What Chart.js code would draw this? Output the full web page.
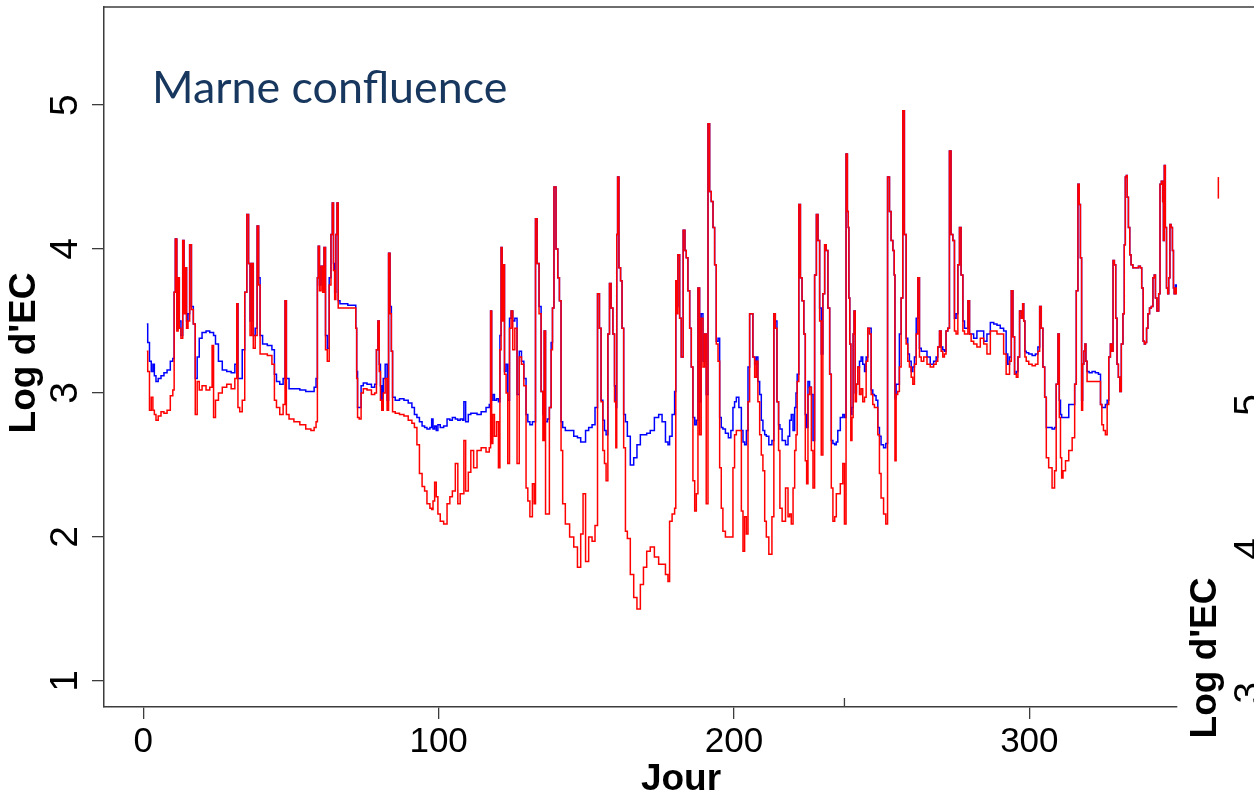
<!DOCTYPE html>
<html lang="fr">
<head>
<meta charset="UTF-8">
<title>Marne confluence - Log d'EC</title>
<script src="https://cdn.jsdelivr.net/npm/chart.js"></script>
<style>
    html, body { margin: 0; padding: 0; background: #fff; }
    #zone { width: 1254px; height: 798px; overflow: hidden; }
</style>
</head>
<body>
<div id="zone"><canvas id="ecChart" width="1254" height="798"></canvas></div>
<script>
// Jour de l'année et log d'EC pour les deux séries (bleu / rouge)
const jour = [
    1.2, 1.8, 2.4, 3.0, 3.5, 4.0, 4.6, 5.5, 6.5, 7.5,
    8.6, 9.7, 10.3, 10.6, 11.1, 11.6, 12.0, 12.4, 13.1, 13.6,
    14.0, 14.4, 14.9, 15.4, 16.0, 16.6, 17.3, 17.9, 18.6, 19.3,
    20.5, 22.0, 23.0, 23.6, 24.0, 24.9, 26.0, 27.5, 29.0, 30.5,
    31.5, 31.8, 32.3, 33.0, 34.0, 34.7, 35.4, 35.9, 36.4, 37.0,
    37.5, 38.3, 38.8, 39.3, 39.8, 41.0, 43.0, 44.1, 44.7, 45.5,
    46.9, 47.8, 48.2, 48.7, 50.0, 52.0, 54.0, 56.0, 57.5, 58.2,
    58.8, 59.1, 59.4, 59.9, 60.5, 61.0, 61.4, 62.0, 62.6, 63.3,
    63.8, 64.2, 64.6, 65.0, 65.4, 65.8, 66.2, 67.0, 68.5, 70.0,
    71.8, 72.1, 72.4, 72.7, 73.5, 74.0, 75.0, 76.5, 78.0, 78.7,
    79.2, 79.7, 80.1, 80.5, 81.0, 81.5, 82.3, 82.8, 83.3, 83.8,
    84.2, 84.6, 86.0, 87.5, 89.0, 90.4, 91.5, 92.1, 93.2, 93.8,
    95.0, 95.5, 96.6, 97.5, 97.8, 98.4, 98.9, 99.5, 100.0, 101.1,
    102.3, 103.4, 104.2, 105.1, 106.2, 106.8, 107.8, 108.4, 108.7, 109.6,
    110.5, 111.3, 112.4, 113.6, 115.2, 116.9, 117.4, 117.8, 118.1, 118.6,
    119.2, 120.0, 120.5, 121.0, 121.3, 121.7, 122.0, 122.6, 123.1, 123.7,
    124.3, 124.8, 125.4, 126.2, 126.9, 127.7, 128.4, 129.3, 129.9, 130.5,
    131.3, 132.2, 132.5, 133.1, 133.6, 134.4, 135.0, 135.6, 135.9, 136.5,
    137.2, 137.8, 138.4, 138.7, 139.4, 140.1, 140.6, 141.2, 141.7, 142.3,
    143.5, 145.2, 146.3, 147.7, 148.5, 149.3, 150.2, 151.4, 152.5, 153.4,
    154.2, 154.7, 155.3, 155.9, 156.4, 157.0, 157.6, 158.1, 158.7, 159.3,
    159.8, 160.2, 160.4, 160.8, 161.3, 161.9, 162.3, 163.0, 163.5, 164.3,
    165.5, 166.6, 167.7, 168.9, 169.8, 171.1, 172.2, 173.9, 175.1, 176.2,
    177.4, 177.9, 178.5, 179.6, 180.2, 180.4, 180.7, 181.3, 181.9, 182.4,
    183.2, 183.6, 184.1, 184.7, 185.3, 185.8, 186.4, 187.0, 187.5, 188.1,
    188.6, 189.2, 189.8, 190.3, 190.9, 191.5, 192.0, 192.6, 193.2, 193.7,
    194.3, 194.9, 195.4, 196.0, 196.5, 197.7, 198.5, 199.4, 199.9, 200.5,
    201.1, 202.2, 202.8, 203.3, 203.9, 204.5, 205.0, 205.6, 206.1, 206.7,
    207.3, 207.8, 208.4, 209.0, 209.5, 210.1, 210.7, 211.2, 212.4, 213.3,
    213.7, 214.3, 214.8, 215.4, 215.7, 216.9, 218.0, 218.6, 219.1, 219.7,
    220.3, 220.8, 221.2, 221.6, 222.3, 222.7, 223.4, 223.9, 224.4, 224.8,
    225.3, 225.9, 226.5, 227.0, 227.6, 228.2, 228.7, 229.3, 229.8, 230.4,
    231.0, 231.5, 232.1, 232.7, 233.2, 233.8, 234.4, 234.9, 235.4, 236.6,
    237.1, 237.7, 238.2, 238.6, 238.8, 239.0, 239.4, 239.7, 240.2, 240.5,
    240.8, 241.3, 241.6, 242.2, 242.8, 243.3, 243.9, 244.5, 245.0, 245.6,
    246.2, 246.7, 247.3, 247.8, 248.4, 249.0, 249.5, 250.1, 251.2, 251.6,
    252.4, 252.9, 253.5, 254.1, 254.4, 254.6, 255.2, 255.7, 256.3, 256.9,
    257.4, 258.0, 258.6, 259.1, 259.7, 260.3, 260.8, 261.4, 262.0, 262.5,
    263.1, 263.7, 264.8, 265.9, 267.0, 268.2, 268.7, 269.3, 269.9, 270.4,
    271.0, 271.5, 272.1, 272.7, 273.2, 273.8, 274.4, 274.9, 275.5, 276.1,
    276.6, 277.2, 277.8, 278.3, 278.9, 279.5, 280.0, 280.6, 281.7, 282.8,
    284.0, 285.1, 286.2, 287.4, 288.5, 289.6, 290.7, 291.9, 292.4, 293.0,
    293.6, 294.2, 294.7, 295.3, 295.9, 296.4, 297.0, 297.6, 297.9, 298.3,
    298.7, 299.2, 300.4, 301.5, 302.6, 303.2, 303.8, 304.3, 304.9, 305.5,
    306.0, 307.1, 308.3, 308.8, 309.4, 310.0, 310.3, 310.8, 311.1, 311.7,
    312.8, 313.9, 315.1, 315.6, 316.2, 316.7, 317.1, 317.5, 317.9, 318.2,
    318.7, 319.0, 319.3, 319.8, 320.7, 321.8, 322.9, 323.9, 324.3, 324.8,
    325.4, 326.1, 326.6, 327.2, 327.7, 328.1, 328.6, 329.0, 329.5, 329.9,
    330.4, 330.9, 331.4, 332.0, 332.3, 332.7, 333.0, 333.3, 333.8, 334.2,
    334.7, 335.4, 336.5, 337.4, 337.8, 338.3, 338.8, 339.1, 339.5, 339.9,
    340.4, 341.0, 341.6, 342.1, 342.5, 342.9, 343.5, 344.1, 344.4, 345.0,
    345.3, 345.5, 345.9, 346.2, 346.7, 347.0, 347.4, 347.8, 348.2, 348.7,
    348.9, 349.2, 349.7, 350.0
];

const ecBleu = [
    3.48, 3.35, 3.22, 3.15, 3.20, 3.12, 3.08, 3.10, 3.12, 3.14,
    3.16, 3.22, 3.24, 3.70, 4.07, 3.45, 3.80, 3.50, 3.40, 4.06,
    3.60, 3.87, 3.50, 3.55, 4.03, 3.60, 3.48, 3.10, 3.25, 3.38,
    3.42, 3.43, 3.42, 3.42, 3.40, 3.34, 3.22, 3.16, 3.15, 3.14,
    3.20, 3.62, 3.10, 3.10, 3.30, 3.70, 4.24, 3.90, 3.50, 3.90,
    3.40, 3.45, 4.16, 3.80, 3.40, 3.34, 3.33, 3.30, 3.13, 3.08,
    3.06, 3.10, 3.64, 3.10, 3.03, 3.03, 3.02, 3.01, 3.01, 3.04,
    3.10, 3.80, 4.02, 3.75, 3.88, 3.75, 4.01, 3.40, 3.31, 3.80,
    4.10, 4.32, 3.90, 3.70, 4.10, 4.32, 3.64, 3.62, 3.62, 3.61,
    3.61, 3.45, 3.15, 2.90, 2.90, 3.05, 3.07, 3.06, 3.04, 3.06,
    3.30, 3.50, 3.20, 3.05, 2.92, 3.10, 3.20, 2.95, 3.97, 3.60,
    3.29, 2.97, 2.95, 2.96, 2.95, 2.93, 2.90, 2.85, 2.83, 2.80,
    2.77, 2.76, 2.75, 2.76, 2.82, 2.75, 2.77, 2.74, 2.78, 2.76,
    2.77, 2.82, 2.81, 2.83, 2.82, 2.81, 2.82, 2.81, 2.94, 2.80,
    2.85, 2.86, 2.86, 2.85, 2.87, 2.90, 2.92, 3.57, 2.95, 2.99,
    2.95, 2.96, 2.94, 3.40, 4.01, 3.60, 3.89, 3.15, 3.20, 2.95,
    3.52, 3.57, 3.50, 3.52, 2.99, 3.29, 3.22, 3.10, 2.85, 2.80,
    2.78, 2.80, 2.80, 4.21, 3.90, 3.60, 3.01, 2.85, 3.43, 2.80,
    2.82, 2.90, 3.35, 3.59, 4.43, 4.00, 3.80, 3.64, 2.80, 2.76,
    2.74, 2.74, 2.70, 2.69, 2.66, 2.66, 2.74, 2.76, 2.78, 2.90,
    3.69, 3.45, 2.95, 2.81, 2.74, 2.71, 3.41, 3.76, 3.59, 3.41,
    3.05, 2.90, 4.10, 4.50, 3.87, 3.78, 3.45, 2.85, 2.80, 2.70,
    2.50, 2.55, 2.64, 2.71, 2.71, 2.72, 2.74, 2.83, 2.85, 2.80,
    2.66, 2.64, 2.70, 2.85, 3.01, 3.78, 3.60, 3.96, 3.52, 3.25,
    4.13, 3.99, 3.94, 3.71, 3.45, 3.18, 2.83, 2.78, 2.81, 3.73,
    2.94, 3.55, 3.22, 3.41, 2.99, 4.87, 4.40, 4.33, 4.15, 3.89,
    3.36, 3.38, 2.83, 2.76, 2.75, 2.72, 2.69, 2.74, 2.90, 2.94,
    2.97, 2.90, 2.74, 2.66, 2.64, 2.74, 3.18, 3.55, 3.55, 3.25,
    3.20, 3.25, 3.08, 2.99, 2.81, 2.74, 2.71, 2.70, 2.64, 2.67,
    3.55, 3.50, 2.94, 2.78, 2.75, 2.67, 2.64, 2.70, 2.81, 2.85,
    2.74, 2.90, 3.00, 3.13, 4.31, 3.80, 3.64, 3.41, 2.85, 2.76,
    3.08, 3.04, 2.99, 2.67, 3.82, 4.24, 4.06, 3.59, 3.27, 3.69,
    4.03, 3.99, 3.59, 3.13, 2.67, 2.65, 2.64, 2.66, 2.74, 2.83,
    2.85, 2.83, 4.66, 4.26, 4.15, 3.66, 3.34, 2.85, 2.90, 3.41,
    3.57, 3.00, 3.06, 3.18, 3.22, 3.25, 3.20, 3.15, 3.25, 3.45,
    3.45, 3.02, 2.99, 2.98, 2.95, 2.76, 2.70, 2.64, 2.62, 2.65,
    4.50, 4.26, 4.06, 3.99, 3.82, 2.96, 3.06, 3.06, 3.41, 3.66,
    4.96, 4.10, 3.38, 3.27, 3.22, 3.15, 3.18, 3.25, 3.52, 3.80,
    3.31, 3.29, 3.29, 3.25, 3.20, 3.22, 3.25, 3.32, 3.43, 3.32,
    3.30, 3.29, 3.43, 3.45, 4.68, 4.10, 4.06, 3.52, 3.55, 3.89,
    4.15, 3.82, 3.50, 3.45, 3.45, 3.64, 3.41, 3.41, 3.38, 3.43,
    3.43, 3.36, 3.41, 3.49, 3.48, 3.47, 3.45, 3.43, 3.27, 3.20,
    3.25, 3.71, 3.39, 3.13, 3.15, 3.25, 3.57, 3.52, 3.62, 3.50,
    3.29, 3.28, 3.27, 3.26, 3.27, 3.32, 3.60, 3.45, 3.18, 2.97,
    2.76, 2.76, 2.75, 2.76, 3.06, 3.41, 2.95, 2.85, 2.83, 2.83,
    2.83, 2.92, 2.92, 3.06, 3.71, 4.45, 4.31, 3.94, 2.95, 3.20,
    3.29, 3.34, 3.22, 3.15, 3.14, 3.15, 3.14, 3.13, 2.92, 2.90,
    2.90, 2.92, 2.95, 3.25, 3.34, 3.29, 3.92, 3.89, 3.52, 3.20,
    3.11, 3.01, 3.34, 3.55, 4.03, 4.50, 4.51, 4.36, 4.15, 3.96,
    3.89, 3.87, 3.87, 3.88, 3.87, 3.73, 3.36, 3.34, 3.35, 3.45,
    3.55, 3.59, 3.60, 3.80, 3.82, 3.66, 3.57, 3.69, 4.45, 4.47,
    4.33, 4.06, 4.58, 4.15, 3.73, 3.69, 3.80, 4.17, 4.15, 3.99,
    3.73, 3.69, 3.75, 3.72
];

const ecRouge = [
    3.29, 3.15, 2.88, 2.97, 2.88, 2.85, 2.81, 2.84, 2.87, 2.86,
    2.88, 2.98, 3.02, 3.70, 4.07, 3.43, 3.80, 3.45, 3.38, 4.06,
    3.55, 3.87, 3.45, 3.50, 4.03, 3.58, 3.48, 2.85, 3.08, 3.02,
    3.05, 3.02, 3.04, 3.33, 2.83, 2.95, 3.00, 3.04, 3.06, 3.03,
    3.10, 3.62, 2.90, 2.87, 2.95, 3.70, 4.24, 3.90, 3.40, 3.90,
    3.31, 3.40, 4.16, 3.75, 3.27, 3.27, 3.26, 3.20, 2.95, 2.90,
    2.85, 2.92, 3.64, 2.85, 2.82, 2.80, 2.78, 2.75, 2.74, 2.76,
    2.80, 3.80, 4.02, 3.71, 3.88, 3.70, 4.01, 3.30, 3.22, 3.75,
    4.10, 4.32, 3.85, 3.65, 4.10, 4.32, 3.59, 3.59, 3.59, 3.59,
    3.59, 3.45, 3.10, 2.83, 2.82, 3.00, 3.03, 3.02, 2.99, 3.00,
    3.30, 3.50, 3.15, 2.95, 2.88, 3.00, 3.10, 2.88, 3.97, 3.55,
    3.29, 2.87, 2.86, 2.85, 2.84, 2.81, 2.79, 2.76, 2.64, 2.44,
    2.35, 2.32, 2.23, 2.20, 2.19, 2.25, 2.38, 2.28, 2.16, 2.11,
    2.09, 2.23, 2.28, 2.32, 2.51, 2.23, 2.30, 2.30, 2.67, 2.32,
    2.45, 2.60, 2.48, 2.60, 2.62, 2.59, 2.62, 3.57, 2.65, 2.85,
    2.70, 2.80, 2.48, 3.30, 4.01, 3.50, 3.89, 3.13, 3.00, 2.51,
    3.45, 3.57, 3.30, 3.45, 2.51, 3.25, 3.20, 3.05, 2.34, 2.25,
    2.14, 2.37, 2.23, 4.21, 3.90, 3.55, 3.01, 2.67, 3.43, 2.16,
    2.16, 2.90, 3.30, 3.59, 4.43, 4.00, 3.80, 3.64, 2.60, 2.23,
    2.09, 2.00, 1.93, 1.79, 2.02, 2.30, 1.83, 2.00, 1.97, 2.08,
    3.69, 3.45, 2.94, 2.60, 2.51, 2.39, 3.41, 3.76, 3.59, 3.41,
    2.94, 2.62, 4.10, 4.50, 3.87, 3.78, 3.45, 2.62, 2.04, 1.99,
    1.74, 1.58, 1.50, 1.67, 1.79, 1.90, 1.93, 1.86, 1.81, 1.81,
    1.74, 1.69, 2.11, 2.16, 2.20, 3.78, 3.55, 3.96, 3.52, 3.25,
    4.13, 3.99, 3.94, 3.71, 3.45, 3.18, 2.39, 2.18, 2.30, 3.73,
    2.71, 3.52, 3.18, 3.41, 2.23, 4.87, 4.40, 4.33, 4.15, 3.89,
    3.34, 3.22, 2.48, 2.20, 2.04, 2.00, 2.00, 2.00, 2.48, 2.71,
    2.74, 2.74, 2.18, 1.90, 2.14, 2.02, 2.94, 3.55, 3.55, 3.25,
    3.11, 3.22, 2.94, 2.71, 2.57, 2.46, 2.11, 2.00, 1.88, 2.14,
    3.55, 3.45, 2.94, 2.60, 2.20, 2.11, 2.34, 2.14, 2.16, 2.09,
    2.34, 2.60, 2.71, 3.08, 4.31, 3.80, 3.64, 3.41, 2.53, 2.37,
    2.99, 3.04, 2.60, 2.34, 3.82, 4.24, 4.06, 3.50, 2.57, 3.69,
    4.03, 3.99, 3.59, 3.13, 2.34, 2.11, 2.14, 2.30, 2.30, 2.37,
    2.51, 2.09, 4.66, 4.26, 4.15, 3.66, 3.34, 2.67, 2.83, 3.41,
    3.57, 2.94, 3.06, 3.18, 2.99, 3.03, 2.94, 2.97, 3.22, 3.45,
    3.41, 2.99, 2.92, 2.90, 2.90, 2.71, 2.44, 2.27, 2.16, 2.09,
    4.50, 4.26, 4.06, 3.99, 3.82, 2.53, 2.99, 3.01, 3.18, 3.66,
    4.96, 4.10, 3.34, 3.22, 3.18, 3.11, 3.06, 3.20, 3.41, 3.80,
    3.25, 3.22, 3.25, 3.20, 3.18, 3.20, 3.22, 3.32, 3.43, 3.29,
    3.25, 3.27, 3.43, 3.45, 4.68, 4.10, 4.06, 3.43, 3.41, 3.89,
    4.15, 3.82, 3.43, 3.41, 3.41, 3.64, 3.41, 3.36, 3.34, 3.32,
    3.38, 3.34, 3.27, 3.43, 3.43, 3.41, 3.41, 3.27, 3.13, 3.13,
    3.22, 3.71, 3.39, 3.13, 3.11, 3.25, 3.57, 3.52, 3.62, 3.50,
    3.25, 3.22, 3.20, 3.19, 3.20, 3.29, 3.60, 3.45, 3.18, 2.97,
    2.55, 2.48, 2.34, 2.46, 3.06, 3.41, 2.83, 2.55, 2.41, 2.46,
    2.53, 2.60, 2.69, 3.06, 3.71, 4.45, 4.31, 3.94, 2.88, 3.20,
    3.29, 3.34, 3.22, 3.08, 3.08, 3.08, 3.08, 3.08, 2.92, 2.78,
    2.74, 2.71, 2.92, 3.25, 3.34, 3.29, 3.92, 3.89, 3.52, 3.20,
    3.11, 3.01, 3.34, 3.55, 4.03, 4.50, 4.51, 4.36, 4.15, 3.96,
    3.89, 3.87, 3.87, 3.88, 3.87, 3.73, 3.36, 3.34, 3.35, 3.45,
    3.55, 3.59, 3.60, 3.80, 3.82, 3.66, 3.57, 3.69, 4.45, 4.47,
    4.33, 4.06, 4.58, 4.15, 3.73, 3.69, 3.80, 4.17, 4.15, 3.99,
    3.73, 3.69, 3.73, 3.69
];

// morceau de la série du panneau suivant, qui dépasse à droite
const jourVoisin = [364.0, 364.0];
const ecVoisin = [4.50, 4.35];

const xTicks = [0, 100, 200, 300];
const yTicks = [1, 2, 3, 4, 5];
const yTicksVoisin = [3, 4, 5];
const decalageVoisin = 2.083;   // décalage des graduations du panneau voisin
const repereJour = 237.4;        // petite marque verticale sur l'axe des x

const titre = 'Marne confluence';
const titreAxeX = 'Jour';
const titreAxeY = "Log d'EC";

const axe = '#3c3c3c';
const police = "'Liberation Sans', Arial, sans-serif";

function points(xs, ys) {
    return xs.map((d, i) => ({ x: d, y: ys[i] }));
}

// titre, textes tournés et bout du cadre
const habillage = {
    id: 'habillage',
    afterDraw(chart) {
        const { ctx, chartArea: a, scales: { x, y } } = chart;
        ctx.save();

        ctx.strokeStyle = axe;
        ctx.lineWidth = 1.5;
        ctx.beginPath();
        ctx.moveTo(a.left, a.top);
        ctx.lineTo(chart.width, a.top);
        ctx.stroke();
        const xr = x.getPixelForValue(repereJour);
        ctx.lineWidth = 1.3;
        ctx.beginPath();
        ctx.moveTo(xr, a.bottom);
        ctx.lineTo(xr, a.bottom - 9);
        ctx.stroke();

        ctx.fillStyle = '#000';
        ctx.textAlign = 'center';
        ctx.textBaseline = 'alphabetic';

        const tourne = (txt, px, py) => {
            ctx.save();
            ctx.translate(px, py);
            ctx.rotate(-Math.PI / 2);
            ctx.fillText(txt, 0, 0);
            ctx.restore();
        };

        ctx.font = '39px ' + police;
        yTicks.forEach(v => tourne(String(v), 77, y.getPixelForValue(v)));
        yTicksVoisin.forEach(v => tourne(String(v), 1261, y.getPixelForValue(v - decalageVoisin)));

        ctx.font = 'bold 37px ' + police;
        tourne(titreAxeY, 35, 353);
        tourne(titreAxeY, 1216, 658);
        ctx.fillText(titreAxeX, 681, 790);

        // titre ajusté à sa largeur
        let taille = 46;
        ctx.font = taille + 'px Lato, "Open Sans", sans-serif';
        taille = taille * 355 / ctx.measureText(titre).width;
        ctx.font = taille.toFixed(1) + 'px Lato, "Open Sans", sans-serif';
        ctx.textAlign = 'left';
        ctx.fillStyle = '#17375e';
        ctx.fillText(titre, 152, 103);

        ctx.restore();
    }
};

const trait = { borderWidth: 1.5, pointRadius: 0, tension: 0, stepped: 'middle' };

new Chart(document.getElementById('ecChart'), {
    type: 'line',
    data: {
        datasets: [
            { label: 'rouge', data: points(jour, ecRouge), borderColor: '#ff0000', order: 0, ...trait },
            { label: 'bleu', data: points(jour, ecBleu), borderColor: '#0000ff', order: 1, ...trait },
            { label: 'voisin', data: points(jourVoisin, ecVoisin), borderColor: '#ff0000', clip: false, order: 0, ...trait }
        ]
    },
    options: {
        responsive: false,
        devicePixelRatio: 1,
        animation: false,
        layout: { padding: { top: 7, right: 77, left: 0, bottom: 0 } },
        plugins: { legend: { display: false }, tooltip: { enabled: false } },
        scales: {
            x: {
                type: 'linear',
                min: -13.3,
                max: 350.0,
                afterBuildTicks: s => { s.ticks = xTicks.map(v => ({ value: v })); },
                afterFit: s => { s.height = 91; },
                grid: { drawOnChartArea: false, drawTicks: true, tickLength: 12, color: axe, lineWidth: 1.3 },
                border: { display: true, color: axe, width: 1.5 },
                ticks: {
                    color: '#000',
                    font: { family: police, size: 35 },
                    padding: 2,
                    maxRotation: 0,
                    autoSkip: false
                }
            },
            y: {
                type: 'linear',
                min: 0.819,
                max: 5.681,
                afterBuildTicks: s => { s.ticks = yTicks.map(v => ({ value: v })); },
                afterFit: s => { s.width = 104; },
                grid: { drawOnChartArea: false, drawTicks: true, tickLength: 12, color: axe, lineWidth: 1.3 },
                border: { display: true, color: axe, width: 1.5 },
                ticks: { display: false }
            }
        }
    },
    plugins: [habillage]
});
</script>
</body>
</html>
